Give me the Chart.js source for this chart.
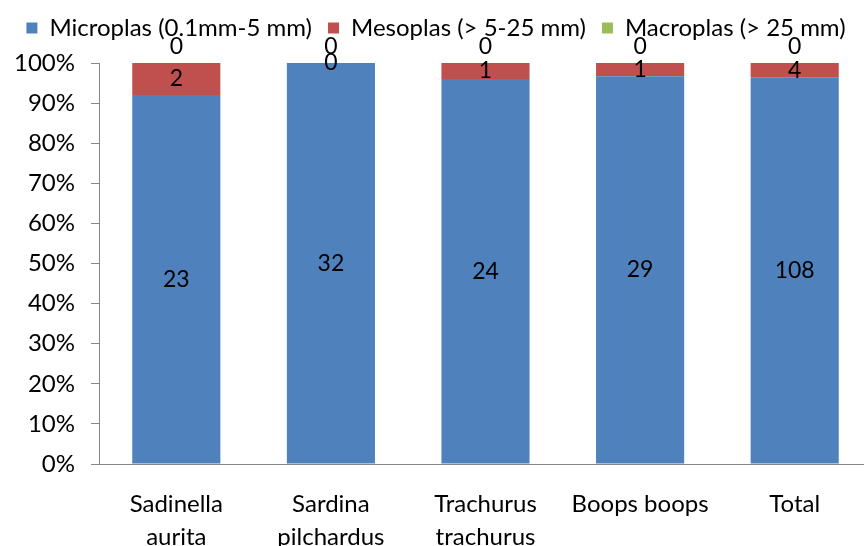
<!DOCTYPE html>
<html>
<head>
<style>
  html, body { margin: 0; padding: 0; overflow: hidden; background: #fff; }
</style>
</head>
<body>
<script src="https://cdn.jsdelivr.net/npm/chart.js@4.4.0/dist/chart.umd.min.js"></script>
<canvas id="myChart" width="872" height="566"></canvas>
<script>
    var categories = [['Sadinella', 'aurita'], ['Sardina', 'pilchardus'], ['Trachurus', 'trachurus'], 'Boops boops', 'Total'];
    var microplas = [23, 32, 24, 29, 108];
    var mesoplas = [2, 0, 1, 1, 4];
    var macroplas = [0, 0, 0, 0, 0];
    var seriesNames = ['Microplas (0.1mm-5 mm)', 'Mesoplas (> 5-25 mm)', 'Macroplas (> 25 mm)'];
    var yTicks = [0, 10, 20, 30, 40, 50, 60, 70, 80, 90, 100];

    var FONT = 'Lato';
    var counts = [microplas, mesoplas, macroplas];
    var totals = microplas.map(function (v, i) { return v + mesoplas[i] + macroplas[i]; });
    function pct(arr) {
        return arr.map(function (v, i) { return v / totals[i] * 100; });
    }

    // value labels in the middle of each segment, like the original
    var segmentLabels = {
        id: 'segmentLabels',
        afterDatasetsDraw: function (chart) {
            var ctx = chart.ctx;
            ctx.save();
            ctx.font = '23px ' + FONT;
            ctx.fillStyle = '#000';
            ctx.textAlign = 'center';
            ctx.textBaseline = 'middle';
            chart.data.datasets.forEach(function (ds, di) {
                var meta = chart.getDatasetMeta(di);
                meta.data.forEach(function (bar, i) {
                    var v = counts[di][i];
                    var y = (bar.y + bar.base) / 2;
                    if (v === 0 && di === chart.data.datasets.length - 1) y = bar.y - 16;
                    ctx.fillText(String(v), bar.x, y);
                });
            });
            ctx.restore();
        }
    };

    // leave room between legend and plot top
    var legendSpace = {
        id: 'legendSpace',
        beforeLayout: function (chart) {
            var lg = chart.legend;
            if (lg && !lg._patched) {
                var fit = lg.fit;
                lg.fit = function () {
                    fit.call(this);
                    this.height = 63;
                };
                lg._patched = true;
            }
        }
    };

    var ctx = document.getElementById("myChart").getContext('2d');
    var myChart = new Chart(ctx, {
        type: 'bar',
        data: {
            labels: categories,
            datasets: [
                { label: seriesNames[0], data: pct(microplas), backgroundColor: '#4F81BD' },
                { label: seriesNames[1], data: pct(mesoplas), backgroundColor: '#C0504D' },
                { label: seriesNames[2], data: pct(macroplas), backgroundColor: '#9BBB59' }
            ]
        },
        options: {
            responsive: false,
            animation: false,
            layout: { padding: 0 },
            datasets: {
                bar: { barPercentage: 0.57, categoryPercentage: 1 }
            },
            plugins: {
                legend: {
                    position: 'top',
                    labels: {
                        font: { family: FONT, size: 24 },
                        color: '#000',
                        boxWidth: 11,
                        boxHeight: 11,
                        padding: 16
                    }
                },
                tooltip: { enabled: false }
            },
            scales: {
                x: {
                    stacked: true,
                    afterFit: function (scale) { scale.height = 102; },
                    grid: { display: false, drawTicks: false },
                    border: { display: true, color: '#868686' },
                    ticks: { font: { family: FONT, size: 24, lineHeight: 1.38 }, color: '#000', padding: 24, maxRotation: 0 }
                },
                y: {
                    stacked: true,
                    min: 0,
                    max: 100,
                    afterFit: function (scale) { scale.width = 99; },
                    afterBuildTicks: function (scale) {
                        scale.ticks = yTicks.map(function (v) { return { value: v }; });
                    },
                    grid: { drawOnChartArea: false, tickLength: 8, color: '#868686' },
                    border: { display: true, color: '#868686' },
                    ticks: {
                        font: { family: FONT, size: 24 },
                        color: '#000',
                        padding: 16,
                        callback: function (v) { return v + '%'; }
                    }
                }
            }
        },
        plugins: [segmentLabels, legendSpace]
    });
</script>
</body>
</html>
